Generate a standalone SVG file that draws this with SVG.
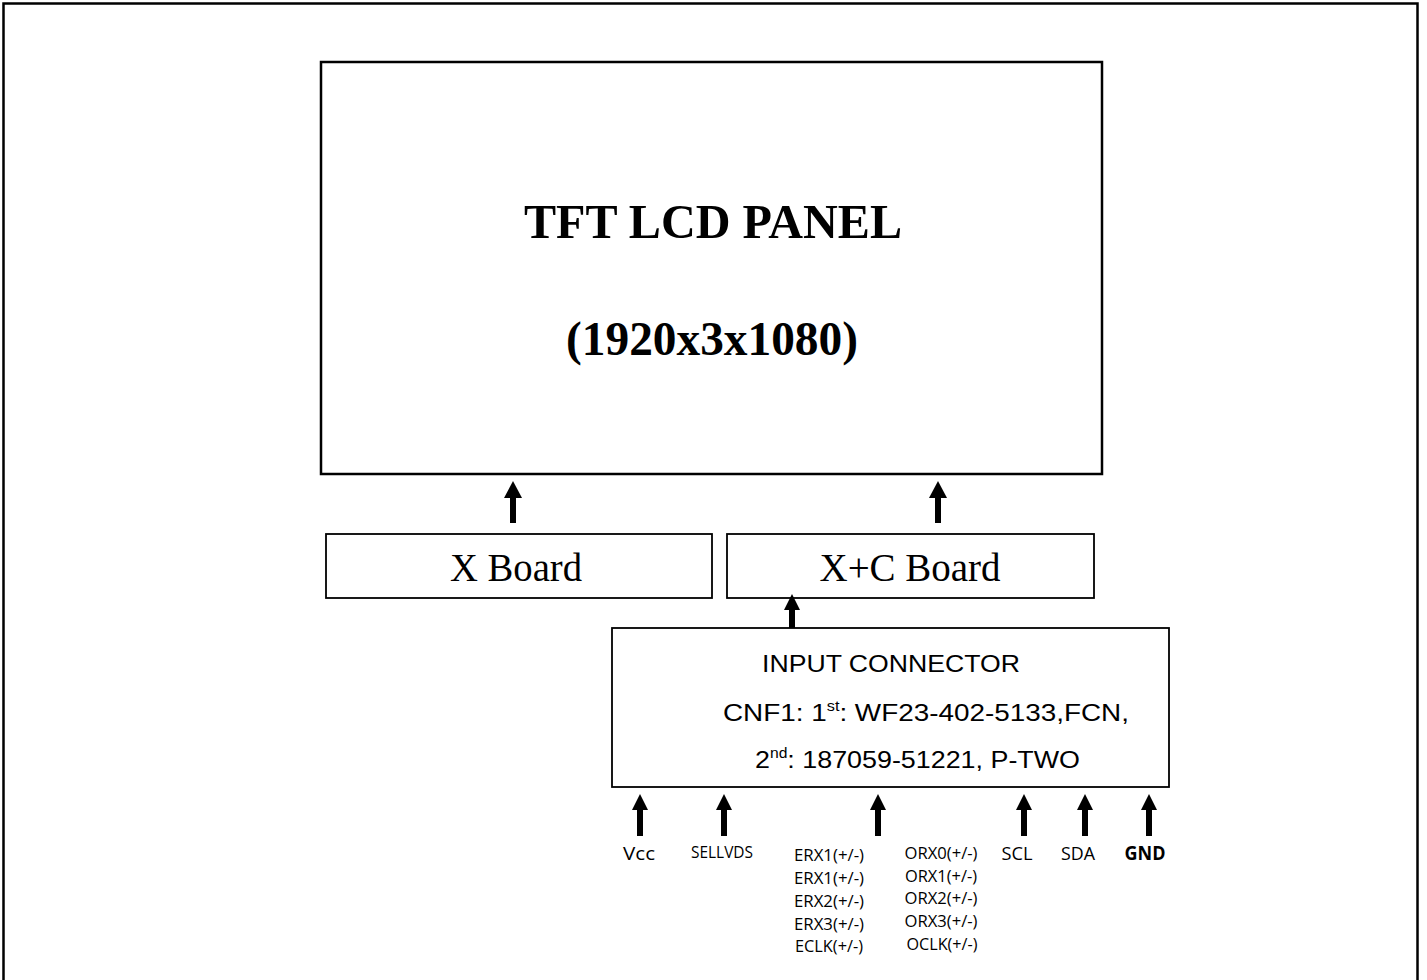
<svg xmlns="http://www.w3.org/2000/svg" width="1427" height="980" viewBox="0 0 1427 980">
<defs>
<style>
.box{fill:#fff;stroke:#000;}
.title{font-family:"Liberation Serif",serif;font-weight:bold;font-size:48px;fill:#000;text-anchor:middle;}
.board{font-family:"Liberation Serif",serif;font-size:39px;fill:#000;text-anchor:middle;}
.conn{font-family:"Liberation Sans",Arial,sans-serif;font-size:24px;fill:#000;}
.sig{font-family:"Open Sans","Liberation Sans",sans-serif;font-size:16.5px;fill:#000;text-anchor:middle;}
.big{font-size:19px;}
.arrow{stroke:#000;stroke-width:6;fill:none;}
.head{fill:#000;}
</style>
</defs>
<rect width="1427" height="980" fill="#fff"/>
<rect x="3.5" y="3.5" width="1414" height="1000" fill="none" stroke="#000" stroke-width="2.5"/>
<g id="panel">
<rect class="box" x="321" y="62" width="781" height="412" stroke-width="2.5"/>
<text class="title" x="713" y="238" textLength="378" lengthAdjust="spacingAndGlyphs">TFT LCD PANEL</text>
<text class="title" x="712" y="355" font-size="51" textLength="292" lengthAdjust="spacingAndGlyphs">(1920x3x1080)</text>
</g>
<g id="xboard">
<rect class="box" x="326" y="534" width="386" height="64" stroke-width="1.8"/>
<text class="board" x="516" y="581" textLength="132" lengthAdjust="spacingAndGlyphs">X Board</text>
</g>
<g id="xcboard">
<rect class="box" x="727" y="534" width="367" height="64" stroke-width="1.8"/>
<text class="board" x="910" y="581" textLength="181" lengthAdjust="spacingAndGlyphs">X+C Board</text>
</g>
<g id="input">
<rect class="box" x="612" y="628" width="557" height="159" stroke-width="1.8"/>
<text class="conn" x="762" y="672" textLength="258" lengthAdjust="spacingAndGlyphs">INPUT CONNECTOR</text>
<text class="conn" x="723" y="721" textLength="406" lengthAdjust="spacingAndGlyphs">CNF1: 1<tspan font-size="14" dy="-10">st</tspan><tspan dy="10">: WF23-402-5133,FCN,</tspan></text>
<text class="conn" x="755" y="768" textLength="325" lengthAdjust="spacingAndGlyphs">2<tspan font-size="14" dy="-10">nd</tspan><tspan dy="10">: 187059-51221, P-TWO</tspan></text>
</g>
<g id="connectors">
<line class="arrow" x1="513" y1="523" x2="513" y2="496"/><polygon class="head" points="504,498 522,498 513,481"/>
<line class="arrow" x1="938" y1="523" x2="938" y2="496"/><polygon class="head" points="929,498 947,498 938,481"/>
<line class="arrow" x1="792" y1="628" x2="792" y2="608"/><polygon class="head" points="784,610 800,610 792,594"/>
<line class="arrow" x1="640" y1="836" x2="640" y2="808"/><polygon class="head" points="632,810 648,810 640,794"/>
<line class="arrow" x1="724" y1="836" x2="724" y2="808"/><polygon class="head" points="716,810 732,810 724,794"/>
<line class="arrow" x1="878" y1="836" x2="878" y2="808"/><polygon class="head" points="870,810 886,810 878,794"/>
<line class="arrow" x1="1024" y1="836" x2="1024" y2="808"/><polygon class="head" points="1016,810 1032,810 1024,794"/>
<line class="arrow" x1="1085" y1="836" x2="1085" y2="808"/><polygon class="head" points="1077,810 1093,810 1085,794"/>
<line class="arrow" x1="1149" y1="836" x2="1149" y2="808"/><polygon class="head" points="1141,810 1157,810 1149,794"/>
</g>
<g id="labels">
<text class="sig big" x="639" y="860" textLength="32" lengthAdjust="spacingAndGlyphs">Vcc</text>
<text class="sig" x="722" y="858" textLength="62" lengthAdjust="spacingAndGlyphs">SELLVDS</text>
<text class="sig" x="829" y="861" textLength="70" lengthAdjust="spacingAndGlyphs">ERX1(+/-)</text>
<text class="sig" x="829" y="884" textLength="70" lengthAdjust="spacingAndGlyphs">ERX1(+/-)</text>
<text class="sig" x="829" y="907" textLength="70" lengthAdjust="spacingAndGlyphs">ERX2(+/-)</text>
<text class="sig" x="829" y="930" textLength="70" lengthAdjust="spacingAndGlyphs">ERX3(+/-)</text>
<text class="sig" x="829" y="952" textLength="68" lengthAdjust="spacingAndGlyphs">ECLK(+/-)</text>
<text class="sig" x="941" y="859" textLength="73" lengthAdjust="spacingAndGlyphs">ORX0(+/-)</text>
<text class="sig" x="941" y="882" textLength="72" lengthAdjust="spacingAndGlyphs">ORX1(+/-)</text>
<text class="sig" x="941" y="904" textLength="73" lengthAdjust="spacingAndGlyphs">ORX2(+/-)</text>
<text class="sig" x="941" y="927" textLength="73" lengthAdjust="spacingAndGlyphs">ORX3(+/-)</text>
<text class="sig" x="942" y="950" textLength="71" lengthAdjust="spacingAndGlyphs">OCLK(+/-)</text>
<text class="sig big" x="1017" y="860" textLength="31" lengthAdjust="spacingAndGlyphs">SCL</text>
<text class="sig big" x="1078" y="860" textLength="34" lengthAdjust="spacingAndGlyphs">SDA</text>
<text class="sig big" x="1145" y="860" font-weight="bold" textLength="41" lengthAdjust="spacingAndGlyphs">GND</text>
</g>
</svg>
